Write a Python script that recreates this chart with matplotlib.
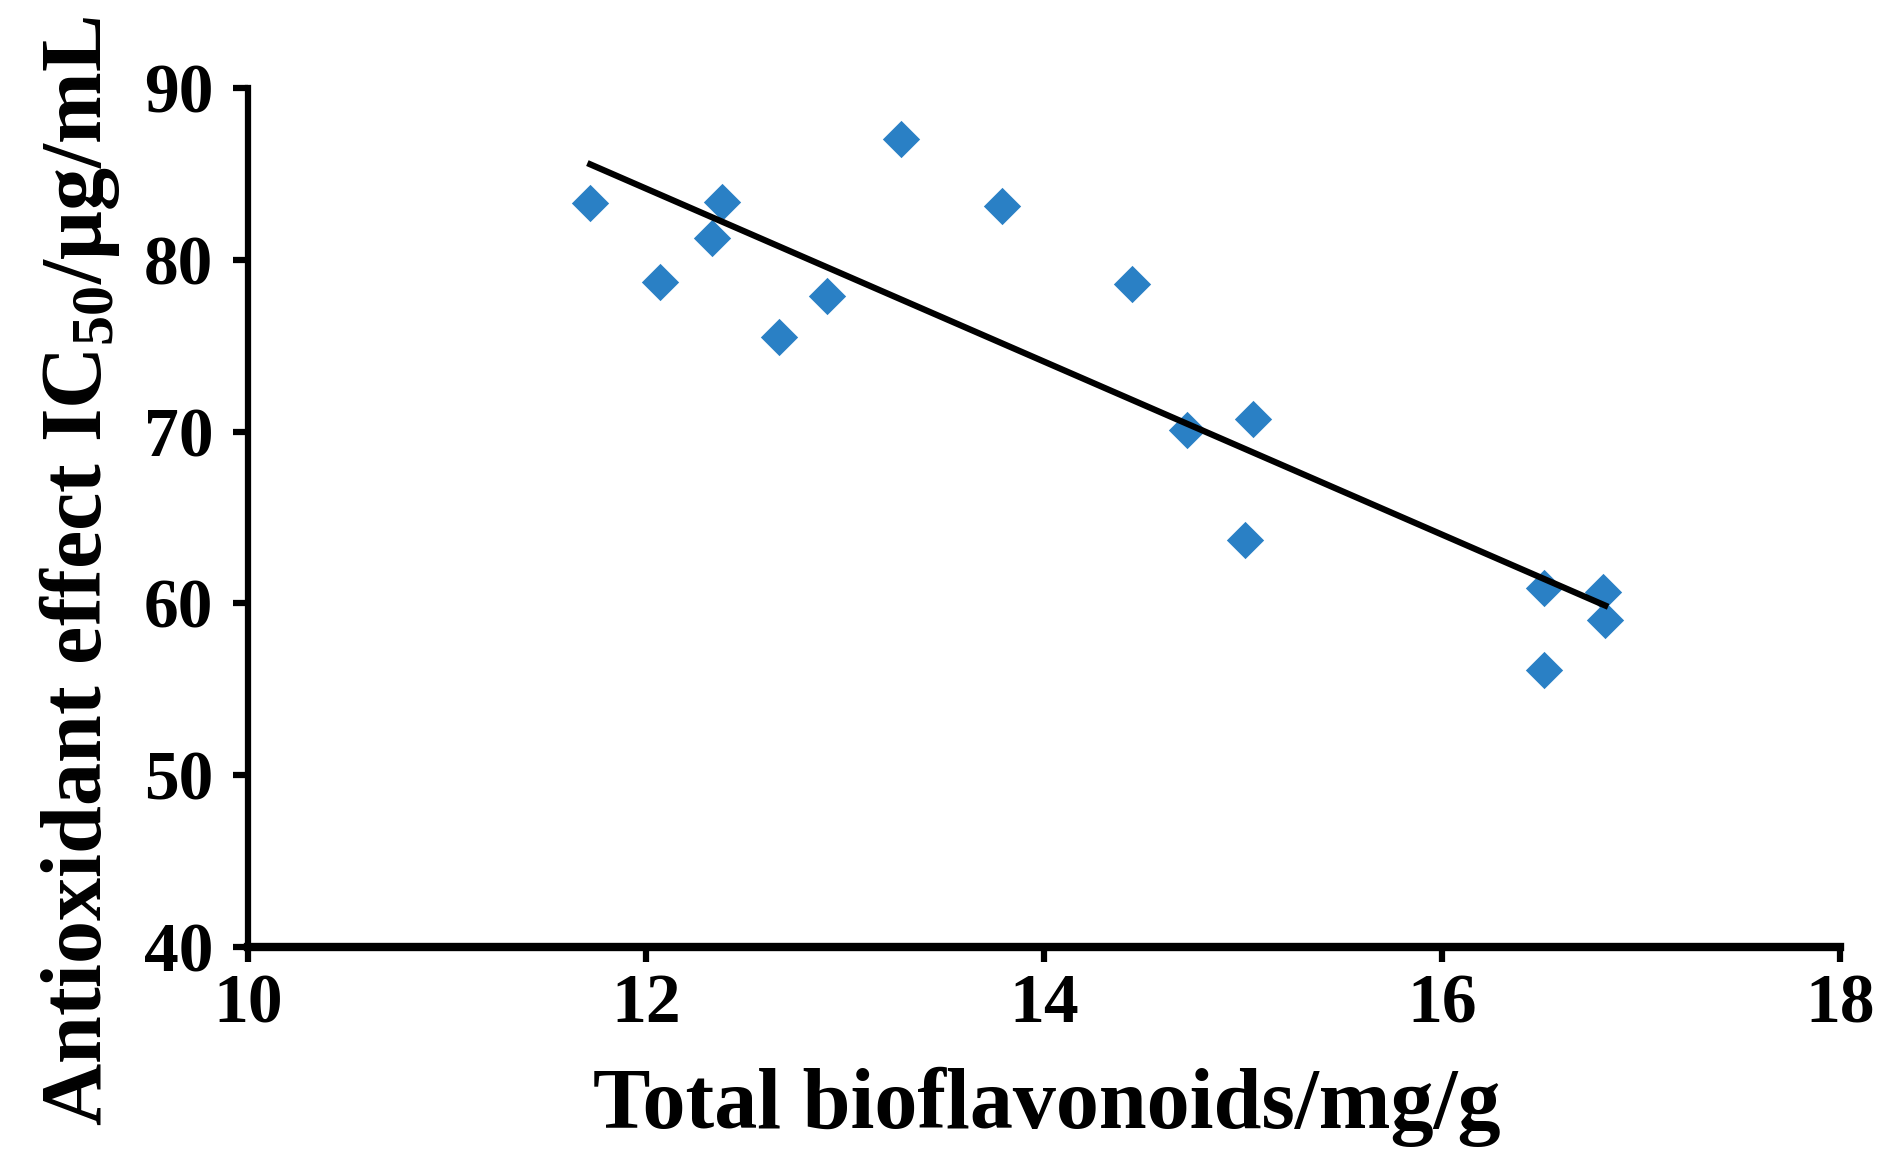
import numpy as np
import matplotlib
matplotlib.use("Agg")
import matplotlib.pyplot as plt

plt.rcParams['font.family'] = ['Liberation Serif', 'DejaVu Serif']
plt.rcParams['font.weight'] = 'bold'
plt.rcParams['mathtext.fontset'] = 'custom'
plt.rcParams['mathtext.rm'] = 'Liberation Serif:bold'
plt.rcParams['mathtext.it'] = 'Liberation Serif:bold'
plt.rcParams['mathtext.bf'] = 'Liberation Serif:bold'

# total bioflavonoids (mg/g) vs IC50 (ug/mL)
flavonoids = [11.72, 12.38, 12.33, 12.07, 12.91, 12.67, 13.28, 13.79,
              14.44, 14.72, 15.05, 15.01, 16.51, 16.81, 16.82, 16.51]
ic50 = [83.31, 83.36, 81.27, 78.71, 77.89, 75.51, 87.03, 83.13,
        78.59, 70.09, 70.73, 63.69, 60.90, 60.66, 59.03, 56.12]
x_ticks = [10, 12, 14, 16, 18]
y_ticks = [40, 50, 60, 70, 80, 90]

fig = plt.figure(figsize=(18.84, 11.59), dpi=100)
ax = fig.add_axes([0.1316, 0.183, 0.8451, 0.741])

x = np.array(flavonoids)
y = np.array(ic50)
ax.scatter(x, y, marker='D', s=19**2, color='#2a80c5', linewidths=0, zorder=3)

# linear trendline over data range
k, b = np.polyfit(x, y, 1)
xs = np.array([x.min(), x.max()])
ax.plot(xs, k * xs + b, color='black', linewidth=4.5, zorder=4)

ax.set_xlim(10, 18)
ax.set_ylim(40, 90)
ax.set_xticks(x_ticks)
ax.set_yticks(y_ticks)
for side in ['top', 'right']:
    ax.spines[side].set_visible(False)
ax.spines['left'].set_linewidth(4.5)
ax.spines['bottom'].set_linewidth(6)
ax.tick_params(axis='both', direction='out', length=11, width=4.5, labelsize=50)
ax.tick_params(axis='y', pad=14)
ax.tick_params(axis='x', pad=8)

fig.text(0.5555, 0.027, 'Total bioflavonoids/mg/g', fontsize=62,
         fontweight='bold', ha='center', va='baseline')
fig.text(0.0535, 0.507, r'Antioxidant effect IC$_{50}$/μg/mL', fontsize=62,
         fontweight='bold', rotation=90, rotation_mode='anchor',
         ha='center', va='baseline')

fig.savefig('out.png', dpi=100)
